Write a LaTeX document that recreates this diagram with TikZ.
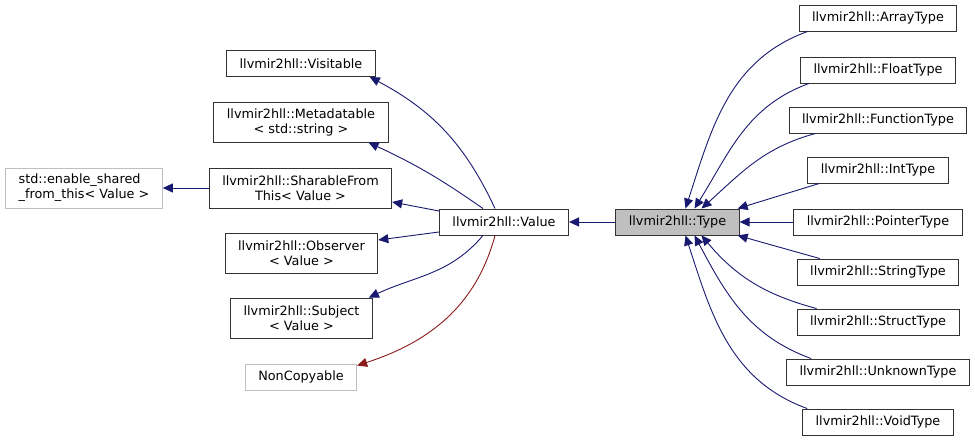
\documentclass[tikz,border=0pt]{standalone}
\usepackage{fontspec}
\setmainfont{DejaVu Sans}
\usetikzlibrary{arrows.meta}
\definecolor{edgec}{RGB}{25,25,112}
\definecolor{privc}{RGB}{139,26,26}
\definecolor{extc}{RGB}{191,191,191}

\begin{document}
\begin{tikzpicture}[x=1pt,y=1pt,font=\fontsize{12.8}{15}\selectfont,
  cls/.style={draw=black!80,line width=0.9pt,inner xsep=13pt,inner ysep=2pt,
    minimum height=26pt,align=center},
  cls2/.style={cls,minimum height=40pt},
  ext/.style={draw=extc},
  inh/.style={edgec,line width=0.9pt,{Triangle[length=10pt,width=9pt]}-},
  priv/.style={inh,privc}]
  \useasboundingbox (0,0) rectangle (975,443);
  % base classes of Value
  \node[cls] (visitable) at (301,379.5) {llvmir2hll::Visitable};
  \node[cls2] (metadatable) at (301,321) {llvmir2hll::Metadatable\\< std::string >};
  \node[cls2] (sharable) at (300.5,255) {llvmir2hll::SharableFrom\\This< Value >};
  \node[cls2,ext,align=left] (enable) at (84,255) {std::enable\_shared\\\_from\_this< Value >};
  \node[cls2] (observer) at (301.5,190) {llvmir2hll::Observer\\< Value >};
  \node[cls2] (subject) at (301.5,125) {llvmir2hll::Subject\\< Value >};
  \node[cls,ext] (noncopy) at (301,66) {NonCopyable};
  \node[cls] (value) at (504,221) {llvmir2hll::Value};
  \node[cls,fill=extc] (type) at (677.5,221) {llvmir2hll::Type};
  % derived types, one column
  \foreach \nm/\kind/\y in {array/Array/425,float/Float/373,function/Function/323,
      int/Int/273,pointer/Pointer/221,string/String/171,struct/Struct/121,
      unknown/Unknown/71,void/Void/21}
    \node[cls] (\nm) at (878,\y) {llvmir2hll::\kind Type};

  % Value -> bases
  \draw[inh] ([xshift=-6pt]visitable.south east) to[out=-28,in=115] ([xshift=-9pt]value.north);
  \draw[inh] ([xshift=-20pt]metadatable.south east) to[out=-25,in=145] ([xshift=-21pt]value.north);
  \draw[inh] (enable.east) -- (sharable.west);
  \draw[inh] ([yshift=-14pt]sharable.east) -- ([yshift=11pt]value.west);
  \draw[inh] ([yshift=13pt]observer.east) -- ([yshift=-10pt]value.west);
  \draw[inh] ([xshift=-4pt]subject.north east) to[out=25,in=-130] ([xshift=-21pt]value.south);
  \draw[priv] ([yshift=-2pt]noncopy.north east) to[out=18,in=-105] ([xshift=-9pt]value.south);
  \draw[inh] (value.east) -- (type.west);

  % derived -> Type
  \draw[inh] ([xshift=8pt]type.north) to[out=72,in=200] ([xshift=9pt]array.south west);
  \draw[inh] ([xshift=17pt]type.north) to[out=58,in=200] ([xshift=9pt]float.south west);
  \draw[inh] ([xshift=24pt]type.north) to[out=42,in=195] ([xshift=27pt]function.south west);
  \draw[inh] ([xshift=-2pt]type.north east) -- ([xshift=12pt]int.south west);
  \draw[inh] (type.east) -- (pointer.west);
  \draw[inh] ([xshift=-2pt]type.south east) -- ([xshift=23pt]string.north west);
  \draw[inh] ([xshift=24pt]type.south) to[out=-50,in=165] ([xshift=20pt]struct.north west);
  \draw[inh] ([xshift=17pt]type.south) to[out=-62,in=160] ([xshift=25pt]unknown.north west);
  \draw[inh] ([xshift=8pt]type.south) to[out=-72,in=160] ([xshift=5pt]void.north west);
\end{tikzpicture}
\end{document}
